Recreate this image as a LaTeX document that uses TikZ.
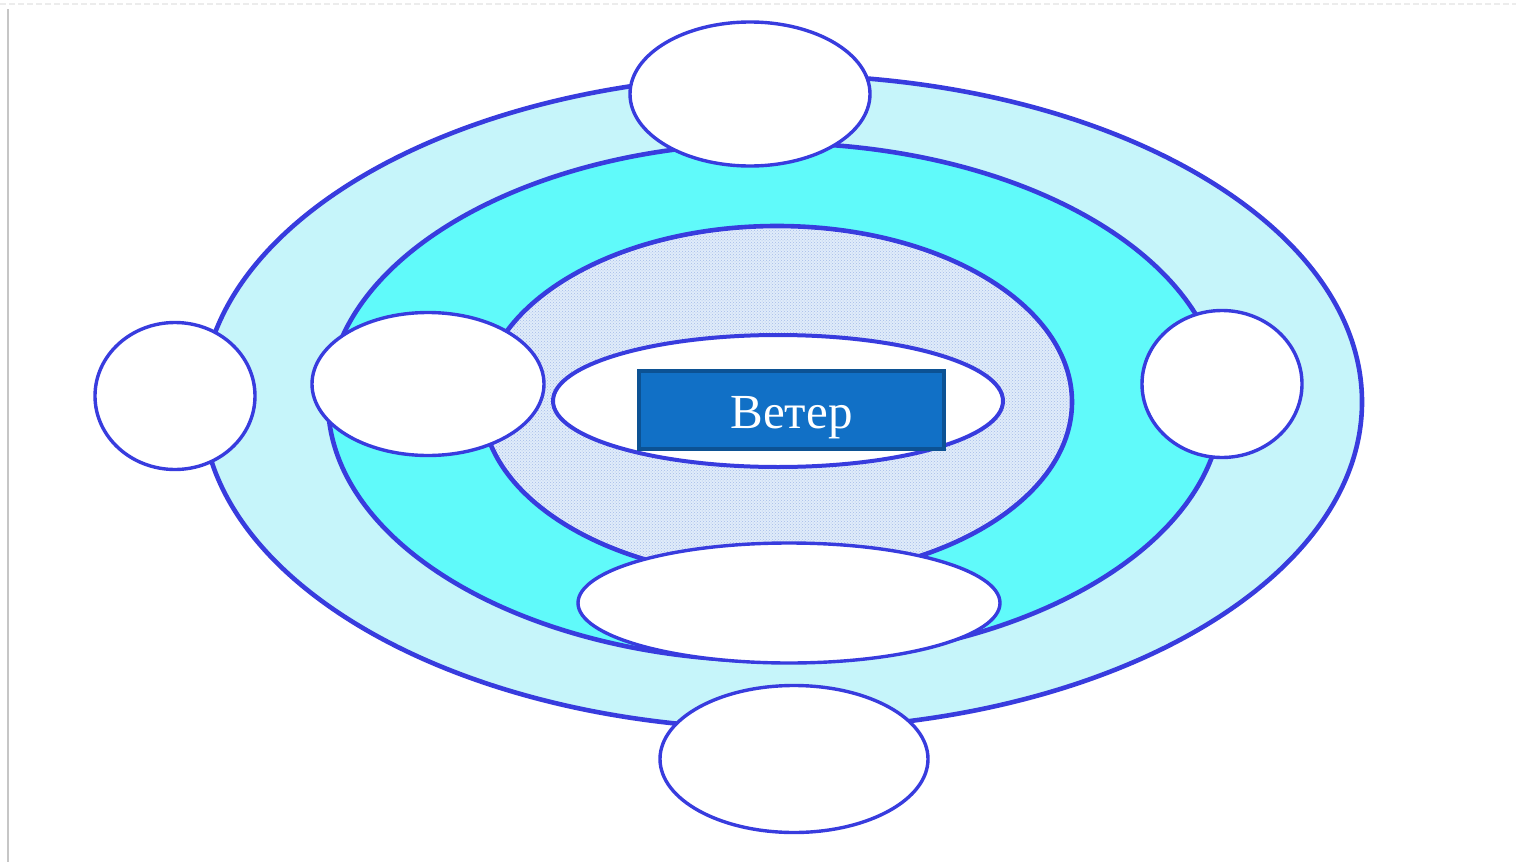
\documentclass[tikz,border=0pt]{standalone}
\usepackage{fontspec}
\setmainfont{Liberation Serif}
\usetikzlibrary{shapes.geometric,patterns}
\definecolor{ringline}{RGB}{56,60,222}
\definecolor{outerfill}{RGB}{198,245,250}
\definecolor{cyanfill}{RGB}{96,250,250}
\definecolor{dotfill}{RGB}{224,236,250}
\definecolor{dotcol}{RGB}{165,188,232}
\definecolor{boxfill}{RGB}{17,112,198}
\definecolor{boxline}{RGB}{12,82,148}
\begin{document}
\begin{tikzpicture}[x=1pt,y=-1pt,
  ring/.style={ellipse,draw=ringline,line width=4.6pt,inner sep=0pt,outer sep=0pt},
  bubble/.style={ellipse,draw=ringline,line width=3.4pt,fill=white,inner sep=0pt,outer sep=0pt},
  titlebox/.style={rectangle,draw=boxline,line width=3.5pt,fill=boxfill,text=white,inner sep=0pt,outer sep=0pt,font=\fontsize{49}{56}\selectfont,text height=40pt,text depth=4pt}]
\useasboundingbox (0,0) rectangle (1516,862);
\fill[white] (0,0) rectangle (1516,862);
% frame lines of the slide
\draw[gray!45,line width=2pt] (8,9) -- (8,862);
\draw[gray!15,line width=2pt,dash pattern=on 6pt off 3pt] (0,4) -- (1516,4);
% rings
\node[ring,fill=outerfill,minimum width=1160pt,minimum height=654pt] (outer) at (782,402) {};
\node[ring,fill=cyanfill,minimum width=894pt,minimum height=518pt] (middle) at (775,402) {};
\node[ring,fill=dotfill,minimum width=590pt,minimum height=352pt] (third) at (777,402) {};
\fill[pattern=crosshatch dots,pattern color=dotcol] (777,402) ellipse [x radius=292pt,y radius=173pt];
\node[ring,line width=4pt,fill=white,minimum width=450pt,minimum height=132pt] (core) at (778,401) {};
% bubbles
\node[bubble,minimum width=240pt,minimum height=144pt] (btop) at (750,94) {};
\node[bubble,minimum width=160pt,minimum height=147pt] (bleft) at (175,396) {};
\node[bubble,minimum width=232pt,minimum height=143pt] (bleftin) at (428,384) {};
\node[bubble,minimum width=160pt,minimum height=147pt] (bright) at (1222,384) {};
\node[bubble,minimum width=422pt,minimum height=120pt] (bbotin) at (789,603) {};
\node[bubble,minimum width=268pt,minimum height=147pt] (bbot) at (794,759) {};
% title
\node[titlebox,minimum width=305pt,minimum height=78pt] (title) at (791.5,410) {Ветер};
\end{tikzpicture}
\end{document}
